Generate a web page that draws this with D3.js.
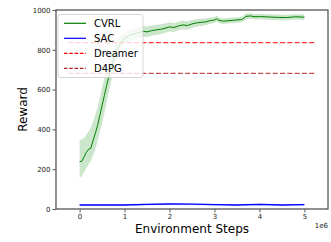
<!DOCTYPE html>
<html>
<head>
<meta charset="utf-8">
<script src="https://cdn.jsdelivr.net/npm/d3@7"></script>
<style>
body { margin: 0; background: #fff; }
text { font-family: "DejaVu Sans", sans-serif; }
</style>
</head>
<body>
<script>
// environment steps (millions)
var cvrlSteps = [0, 0.05, 0.1, 0.15, 0.2, 0.25, 0.3, 0.35, 0.4, 0.45, 0.5, 0.55, 0.6, 0.65, 0.7, 0.75, 0.8, 0.9, 1.0,
  1.1, 1.2, 1.3, 1.4, 1.5, 1.6, 1.7, 1.8, 1.9, 2.0, 2.1, 2.2, 2.3, 2.4, 2.5, 2.6, 2.7, 2.8, 2.9, 3.0, 3.05, 3.1,
  3.2, 3.3, 3.4, 3.5, 3.6, 3.65, 3.7, 3.8, 3.9, 4.0, 4.2, 4.4, 4.6, 4.8, 5.0];
var cvrlMean = [238, 240, 262, 285, 300, 305, 345, 380, 420, 470, 520, 570, 620, 665, 705, 745, 780, 830, 858,
  872, 880, 885, 893, 890, 896, 900, 903, 908, 915, 912, 920, 925, 922, 930, 935, 938, 940, 946, 950, 956, 948,
  944, 946, 948, 950, 952, 958, 968, 970, 966, 967, 965, 963, 962, 966, 964];
var cvrlLow = [158, 165, 185, 205, 225, 240, 270, 300, 340, 385, 430, 480, 535, 590, 640, 690, 735, 795, 830,
  845, 852, 858, 866, 864, 870, 875, 878, 884, 892, 890, 898, 903, 901, 910, 916, 920, 923, 930, 935, 941, 934,
  930, 932, 934, 936, 938, 944, 954, 956, 952, 953, 951, 949, 948, 952, 950];
var cvrlHigh = [345, 350, 355, 375, 390, 410, 440, 475, 510, 560, 610, 655, 700, 740, 775, 805, 830, 865, 885,
  898, 906, 912, 920, 917, 922, 926, 928, 932, 938, 934, 942, 947, 944, 950, 954, 956, 957, 962, 965, 971, 962,
  958, 960, 962, 964, 966, 972, 982, 984, 980, 981, 979, 977, 976, 980, 978];

var sacSteps = [0, 0.5, 1.0, 1.5, 2.0, 2.5, 3.0, 3.5, 4.0, 4.5, 5.0];
var sacMean = [20, 20, 20, 23, 25, 24, 22, 20, 23, 20, 22];

var baselines = [
  { name: "Dreamer", value: 836, color: "#ff0000" },
  { name: "D4PG", value: 682, color: "#b22222" }
];
var baselineSpan = [-0.25, 5.25];

var xTicks = [0, 1, 2, 3, 4, 5];
var yTicks = [0, 200, 400, 600, 800, 1000];

var W = 331, H = 242;
var margin = { left: 56, right: 3, top: 10, bottom: 33 };
var width = W - margin.left - margin.right;
var height = H - margin.top - margin.bottom;

var x = d3.scaleLinear().domain([-0.525, 5.525]).range([0, width]);
var y = d3.scaleLinear().domain([0, 1000]).range([height, 0]);

var svg = d3.select("body").append("svg").attr("width", W).attr("height", H);
var g = svg.append("g").attr("transform", "translate(" + margin.left + "," + margin.top + ")");

g.append("clipPath").attr("id", "clip").append("rect").attr("width", width).attr("height", height);
var plot = g.append("g").attr("clip-path", "url(#clip)");

var band = d3.area()
  .x(function(d, i) { return x(cvrlSteps[i]); })
  .y0(function(d, i) { return y(cvrlLow[i]); })
  .y1(function(d, i) { return y(cvrlHigh[i]); });
plot.append("path").attr("d", band(cvrlSteps)).attr("fill", "#008000").attr("fill-opacity", 0.2);

var cvrlLine = d3.line()
  .x(function(d, i) { return x(cvrlSteps[i]); })
  .y(function(d) { return y(d); });
plot.append("path").attr("d", cvrlLine(cvrlMean)).attr("fill", "none").attr("stroke", "#008000").attr("stroke-width", 1);

var sacBand = d3.area()
  .x(function(d, i) { return x(sacSteps[i]); })
  .y0(function(d) { return y(d - 5); })
  .y1(function(d) { return y(d + 5); });
plot.append("path").attr("d", sacBand(sacMean)).attr("fill", "#0000ff").attr("fill-opacity", 0.15);

var sacLine = d3.line()
  .x(function(d, i) { return x(sacSteps[i]); })
  .y(function(d) { return y(d); });
plot.append("path").attr("d", sacLine(sacMean)).attr("fill", "none").attr("stroke", "#0000ff").attr("stroke-width", 1.3);

baselines.forEach(function(b) {
  plot.append("line")
    .attr("x1", x(baselineSpan[0])).attr("x2", x(baselineSpan[1]))
    .attr("y1", y(b.value)).attr("y2", y(b.value))
    .attr("stroke", b.color).attr("stroke-opacity", 0.8)
    .attr("stroke-width", 1.2).attr("stroke-dasharray", "5,2.3");
});

// axes
var xAxis = d3.axisBottom(x).tickValues(xTicks).tickSize(3.5).tickPadding(2).tickFormat(d3.format("d"));
var yAxis = d3.axisLeft(y).tickValues(yTicks).tickSize(3.5).tickPadding(2).tickFormat(d3.format("d"));

var gx = g.append("g").attr("transform", "translate(0," + height + ")").call(xAxis);
var gy = g.append("g").call(yAxis);
[gx, gy].forEach(function(a) {
  a.select(".domain").remove();
  a.selectAll("line").attr("stroke", "#333").attr("stroke-width", 0.8);
  a.selectAll("text").attr("font-size", 7).attr("fill", "#222").style("font-family", "DejaVu Sans");
});

g.append("rect").attr("width", width).attr("height", height)
  .attr("fill", "none").attr("stroke", "#555").attr("stroke-width", 1.3);

g.append("text").attr("x", width).attr("y", height + 19).attr("text-anchor", "end")
  .attr("font-size", 7).attr("fill", "#222").text("1e6");

svg.append("text").attr("x", margin.left + width / 2).attr("y", 233).attr("text-anchor", "middle")
  .attr("font-size", 12).attr("fill", "#000").text("Environment Steps");
svg.append("text").attr("transform", "translate(27," + (margin.top + height / 2) + ") rotate(-90)")
  .attr("text-anchor", "middle").attr("font-size", 12).attr("fill", "#000").text("Reward");

// legend
var legendItems = [
  { name: "CVRL", color: "#008000", dash: null },
  { name: "SAC", color: "#0000ff", dash: null },
  { name: "Dreamer", color: "#ff0000", dash: "3.5,1.8" },
  { name: "D4PG", color: "#b22222", dash: "3.5,1.8" }
];
var lg = svg.append("g").attr("transform", "translate(58,14.5)");
lg.append("rect").attr("width", 85).attr("height", 63).attr("rx", 2.5)
  .attr("fill", "#fff").attr("fill-opacity", 0.8).attr("stroke", "#ccc").attr("stroke-width", 0.8);
legendItems.forEach(function(d, i) {
  var row = lg.append("g").attr("transform", "translate(0," + (8.8 + i * 15) + ")");
  row.append("line").attr("x1", 6).attr("x2", 28).attr("stroke", d.color)
    .attr("stroke-width", 1.2).attr("stroke-dasharray", d.dash);
  row.append("text").attr("x", 36).attr("y", 3.6).attr("font-size", 10).attr("fill", "#000").text(d.name);
});
</script>
</body>
</html>
